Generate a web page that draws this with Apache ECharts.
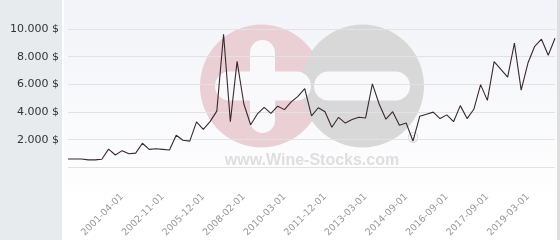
<!DOCTYPE html>
<html>
<head>
<meta charset="utf-8">
<script src="https://cdn.jsdelivr.net/npm/echarts@6/dist/echarts.min.js"></script>
<style>
html,body{margin:0;padding:0;background:#fff;}
#c{width:560px;height:240px;}
</style>
</head>
<body>
<div id="c"></div>
<script>
// ---- data ----
const tickLabels = ['2001-04-01','2002-11-01','2005-12-01','2008-02-01','2010-03-01','2011-12-01','2013-03-01','2014-09-01','2016-09-01','2017-09-01','2019-03-01'];
const firstLabelIndex = 8;
const labelStep = 6;
const prices = [600,600,600,540,540,580,1315,890,1205,980,
  1025,1740,1295,1340,1295,1250,2320,1960,1895,3280,
  2745,3300,4060,9620,3300,7655,4575,3080,3860,4330,
  3905,4420,4170,4730,5130,5690,3725,4305,4020,2900,
  3615,3200,3455,3615,3570,6030,4575,3480,4020,3035,
  3200,1895,3685,3840,3990,3525,3790,3300,4460,3525,
  4195,5980,4840,7635,7075,6515,8975,5580,7540,8750,
  9265,8105,9330];
const yTicks = [0,2000,4000,6000,8000,10000];

// category names: labelled slots get their date, the others stay blank
const categories = prices.map((_, i) => {
  const k = (i - firstLabelIndex) / labelStep;
  return (i >= firstLabelIndex && Number.isInteger(k) && k < tickLabels.length) ? tickLabels[k] : '';
});

function fmtMoney(v){
  if (v === 0) return '';
  return String(v).replace(/\B(?=(\d{3})+(?!\d))/g, '.') + ' $';
}

const BG = -1; // background layer
const chart = echarts.init(document.getElementById('c'), null, {renderer:'canvas'});
chart.setOption({
  animation:false,
  backgroundColor:'#ffffff',
  textStyle:{fontFamily:'DejaVu Sans'},
  grid:{left:68, right:5, top:29, bottom:61.7, containLabel:false},
  graphic:[
    {type:'rect', zlevel:BG, z:-100, silent:true, shape:{x:0,y:0,width:62,height:240}, style:{fill:'#e7ebee'}},
    {type:'rect', zlevel:BG, z:-100, silent:true, shape:{x:64,y:0,width:494,height:240},
      style:{fill:new echarts.graphic.LinearGradient(0,0,0,1,[{offset:0,color:'#f2f3f8'},{offset:0.85,color:'#ffffff'},{offset:1,color:'#ffffff'}])}},
    {type:'rect', zlevel:BG, z:-100, silent:true, shape:{x:557,y:0,width:3,height:240}, style:{fill:'#dedede'}},
    {type:'circle', zlevel:BG, z:-60, silent:true, shape:{cx:261.5,cy:86,r:61.5}, style:{fill:'#eacfd5'}},
    {type:'circle', zlevel:BG, z:-55, silent:true, shape:{cx:362.5,cy:86,r:61.5}, style:{fill:'#d8d8d8'}},
    {type:'rect', zlevel:BG, z:-50, silent:true, shape:{x:314,y:71.5,width:96,height:29,r:14.5}, style:{fill:'#f9f9fb'}},
    {type:'rect', zlevel:BG, z:-50, silent:true, shape:{x:250,y:40,width:25,height:93,r:12.5}, style:{fill:'#f9f9fb'}},
    {type:'rect', zlevel:BG, z:-50, silent:true, shape:{x:215,y:71.5,width:96,height:29,r:14.5}, style:{fill:'#f9f9fb'}},
    {type:'text', zlevel:BG, z:-46, silent:true, style:{x:312,y:161,text:'www.Wine-Stocks.com',fill:'#dedede',
      font:'bold 16px "Liberation Sans", Arial, sans-serif',textAlign:'center',textVerticalAlign:'middle'}},
    {type:'text', zlevel:BG, z:-46, silent:true, style:{x:413,y:139,text:'®',fill:'#d0d0d0',
      font:'14px "DejaVu Sans", sans-serif',textAlign:'center',textVerticalAlign:'middle'}}
  ],
  xAxis:{
    type:'category',
    data:categories,
    boundaryGap:false,
    z:3,
    axisLine:{show:false},
    axisTick:{show:false},
    splitLine:{show:false},
    axisLabel:{
      interval:(i)=> categories[i] !== '',
      rotate:45,
      margin:28,
      fontSize:9.5,
      color:'#999999',
      fontFamily:'DejaVu Sans'
    }
  },
  yAxis:{
    type:'value',
    z:3,
    min:yTicks[0],
    max:yTicks[yTicks.length-1],
    interval:2000,
    axisLine:{show:false},
    axisTick:{show:false},
    splitLine:{lineStyle:{color:'#e2e2e2',width:1}},
    axisLabel:{formatter:fmtMoney, fontSize:11, color:'#333333', margin:9, fontFamily:'DejaVu Sans'}
  },
  series:[{
    type:'line',
    data:prices,
    showSymbol:false,
    symbol:'none',
    smooth:false,
    lineStyle:{color:'#3a2830',width:1.1},
    z:5
  }]
});
</script>
</body>
</html>
